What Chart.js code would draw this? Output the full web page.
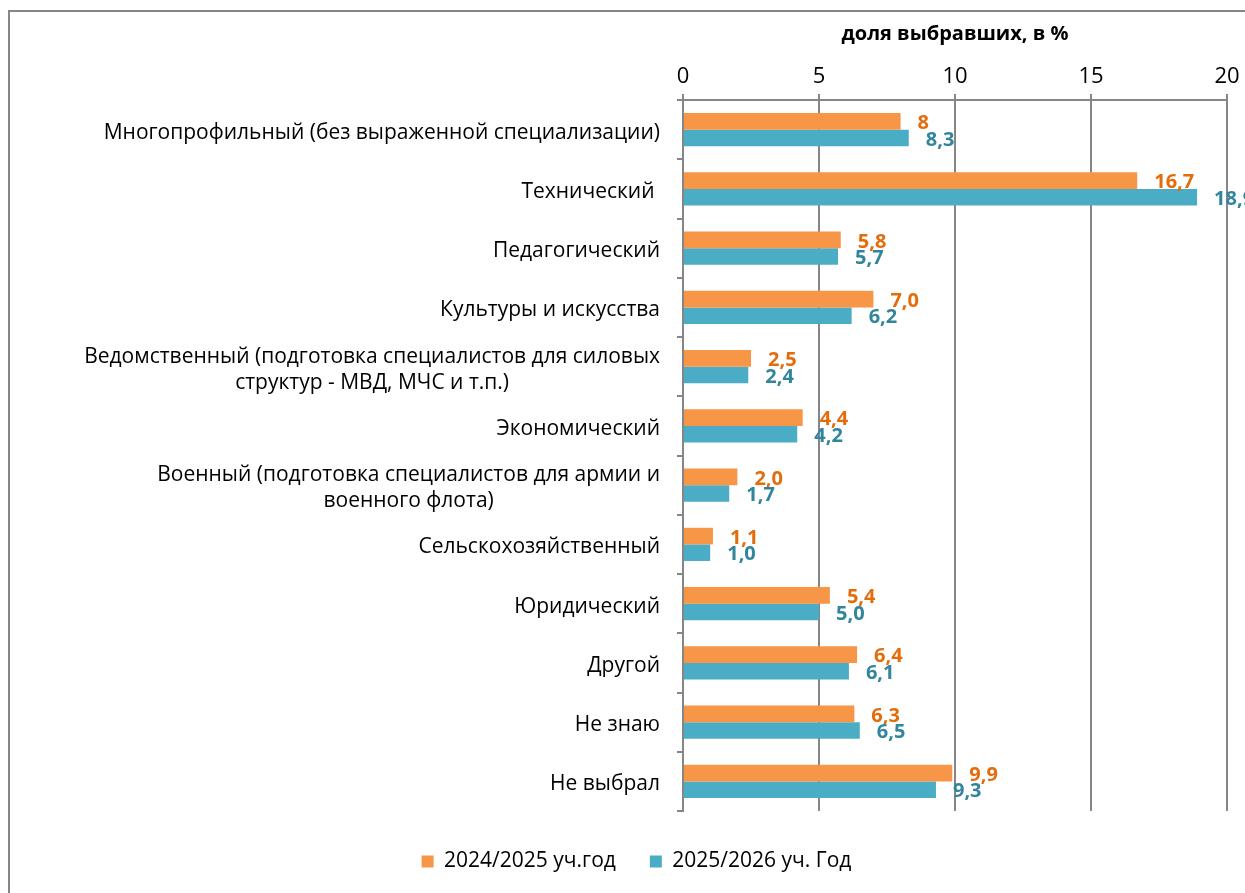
<!DOCTYPE html>
<html>
<head>
<meta charset="utf-8">
<script src="https://cdn.jsdelivr.net/npm/chart.js@4"></script>
<style>
    html, body { margin: 0; padding: 0; background: #fff; }
    #wrap { position: relative; width: 1245px; height: 893px; overflow: hidden; }
    #frame { position: absolute; left: 8px; top: 10px; width: 1400px; height: 1000px;
             border-left: 2px solid #868686; border-top: 2px solid #868686; }
    canvas { position: absolute; left: 0; top: 0; }
</style>
</head>
<body>
<div id="wrap">
    <div id="frame"></div>
    <canvas id="chart" width="1245" height="893"></canvas>
</div>
<script>
    const categories = [
        'Многопрофильный (без выраженной специализации)',
        'Технический ',
        'Педагогический',
        'Культуры и искусства',
        ['Ведомственный (подготовка специалистов для силовых', 'структур - МВД, МЧС и т.п.)'],
        'Экономический',
        ['Военный (подготовка специалистов для армии и', 'военного флота)'],
        'Сельскохозяйственный',
        'Юридический',
        'Другой',
        'Не знаю',
        'Не выбрал'
    ];
    const values2024 = [8, 16.7, 5.8, 7.0, 2.5, 4.4, 2.0, 1.1, 5.4, 6.4, 6.3, 9.9];
    const values2025 = [8.3, 18.9, 5.7, 6.2, 2.4, 4.2, 1.7, 1.0, 5.0, 6.1, 6.5, 9.3];
    const labels2024 = ['8', '16,7', '5,8', '7,0', '2,5', '4,4', '2,0', '1,1', '5,4', '6,4', '6,3', '9,9'];
    const labels2025 = ['8,3', '18,9', '5,7', '6,2', '2,4', '4,2', '1,7', '1,0', '5,0', '6,1', '6,5', '9,3'];
    const seriesNames = ['2024/2025 уч.год', '2025/2026 уч. Год'];
    const axisTitle = 'доля выбравших, в %';

    const FONT = '"Open Sans", sans-serif';
    const gridGray = '#868686';

    // draws the value next to the end of every bar
    const valueLabels = {
        id: 'valueLabels',
        afterDatasetsDraw(chart) {
            const ctx = chart.ctx;
            const texts = [labels2024, labels2025];
            const colors = ['#E46C0A', '#31859C'];
            ctx.save();
            ctx.font = 'bold 20px ' + FONT;
            ctx.textAlign = 'left';
            ctx.textBaseline = 'middle';
            chart.data.datasets.forEach((ds, i) => {
                const meta = chart.getDatasetMeta(i);
                ctx.fillStyle = colors[i];
                meta.data.forEach((bar, j) => {
                    ctx.fillText(texts[i][j], bar.x + 17, bar.y + 2);
                });
            });
            ctx.restore();
        }
    };

    // category labels: block right-aligned to the axis, lines centred inside the block
    const categoryLabels = {
        id: 'categoryLabels',
        afterDraw(chart) {
            const ctx = chart.ctx;
            const scale = chart.scales.y;
            const right = scale.right - 23;
            const lineH = 26;
            ctx.save();
            ctx.font = '21px ' + FONT;
            ctx.fillStyle = '#000';
            ctx.textBaseline = 'middle';
            ctx.textAlign = 'center';
            categories.forEach((lab, i) => {
                const lines = Array.isArray(lab) ? lab : [lab];
                const maxW = Math.max(...lines.map(l => ctx.measureText(l).width));
                const yc = scale.getPixelForTick(i) + 3;
                lines.forEach((line, k) => {
                    const y = yc + (k - (lines.length - 1) / 2) * lineH;
                    ctx.fillText(line, right - maxW / 2, y);
                });
            });
            ctx.restore();
        }
    };

    // legend sits a bit right of the canvas centre in the original
    const legendShift = {
        id: 'legendShift',
        afterUpdate(chart) {
            const lg = chart.legend;
            lg.left += 23; lg.right += 23;
            lg.top += 6; lg.bottom += 6;
            lg.adjustHitBoxes();
        }
    };

    new Chart(document.getElementById('chart'), {
        type: 'bar',
        data: {
            labels: categories,
            datasets: [
                { label: seriesNames[0], data: values2024, backgroundColor: '#F79646', borderWidth: 0 },
                { label: seriesNames[1], data: values2025, backgroundColor: '#4BACC6', borderWidth: 0 }
            ]
        },
        options: {
            indexAxis: 'y',
            responsive: false,
            animation: false,
            datasets: { bar: { categoryPercentage: 0.56, barPercentage: 1.0 } },
            layout: { padding: { left: 0, right: 18, top: 0, bottom: 17 } },
            scales: {
                x: {
                    position: 'top',
                    min: 0, max: 20,
                    ticks: { stepSize: 5, color: '#000', font: { family: FONT, size: 22 }, padding: 4 },
                    grid: { color: gridGray, lineWidth: 2, tickLength: 6 },
                    border: { color: gridGray, width: 2 },
                    title: { display: true, text: axisTitle, color: '#000',
                             font: { family: FONT, size: 20, weight: 'bold' }, padding: { top: 22, bottom: 4 } },
                    afterFit(scale) { scale.height = 100; }
                },
                y: {
                    offset: true,
                    ticks: { display: false },
                    grid: { offset: true, drawOnChartArea: false, color: gridGray, lineWidth: 2, tickLength: 6 },
                    border: { color: gridGray, width: 2 },
                    afterFit(scale) { scale.width = 683; }
                }
            },
            plugins: {
                legend: {
                    position: 'bottom',
                    labels: { color: '#000', font: { family: FONT, size: 21 }, boxWidth: 12, boxHeight: 12, padding: 34 }
                },
                tooltip: { enabled: false }
            }
        },
        plugins: [valueLabels, categoryLabels, legendShift]
    });
</script>
</body>
</html>
